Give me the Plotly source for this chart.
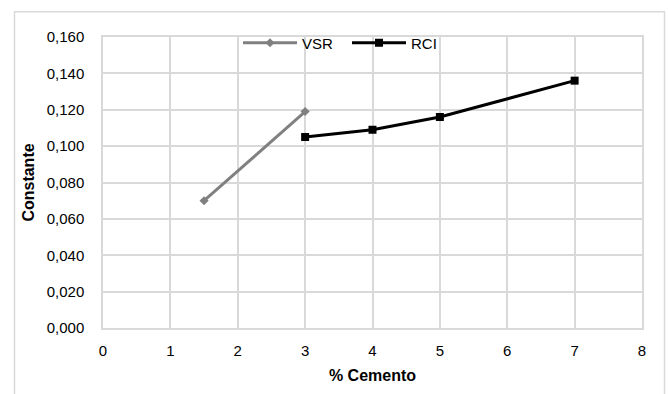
import plotly.graph_objects as go

# Data
vsr_x = [1.5, 3]
vsr_y = [0.070, 0.119]
rci_x = [3, 4, 5, 7]
rci_y = [0.105, 0.109, 0.116, 0.136]
x_ticks = [0, 1, 2, 3, 4, 5, 6, 7, 8]
y_ticks = [0.00, 0.02, 0.04, 0.06, 0.08, 0.10, 0.12, 0.14, 0.16]

FONT = "Liberation Sans, Arial, sans-serif"
GRID = "#d9d9d9"

fig = go.Figure()
fig.add_trace(go.Scatter(
    x=vsr_x, y=vsr_y, name="VSR", mode="lines+markers",
    line=dict(color="#808080", width=3),
    marker=dict(symbol="diamond", size=7, color="#808080"),
))
fig.add_trace(go.Scatter(
    x=rci_x, y=rci_y, name="RCI", mode="lines+markers",
    line=dict(color="#000000", width=3),
    marker=dict(symbol="square", size=8, color="#000000"),
))

fig.update_layout(
    width=670, height=394,
    margin=dict(l=103, r=28, t=37, b=64),
    paper_bgcolor="white", plot_bgcolor="white",
    separators=", ",
    font=dict(family=FONT, size=15, color="#000000"),
    showlegend=True,
    legend=dict(
        orientation="h", x=(238 - 103) / 539, y=(330 - 43) / 293,
        xanchor="left", yanchor="middle",
        itemwidth=54, entrywidth=40, entrywidthmode="pixels",
        bgcolor="rgba(255,255,255,0)",
        font=dict(family=FONT, size=15, color="#000000"),
        tracegroupgap=0, itemsizing="trace",
    ),
    xaxis=dict(
        range=[0, 8], tickvals=x_ticks, ticktext=[str(v) for v in x_ticks],
        showgrid=True, gridcolor=GRID, gridwidth=1.5,
        showline=True, linecolor=GRID, linewidth=1.5, mirror=True,
        zeroline=False, ticks="", ticklabelstandoff=8,
        title=dict(text="<b>% Cemento</b>", font=dict(family=FONT, size=16), standoff=12),
    ),
    yaxis=dict(
        range=[0, 0.16], tickvals=y_ticks, tickformat=".3f",
        showgrid=True, gridcolor=GRID, gridwidth=1.5,
        showline=True, linecolor=GRID, linewidth=1.5, mirror=True,
        zeroline=False, ticks="", ticklabelstandoff=14,
        title=dict(text="<b>Constante</b>", font=dict(family=FONT, size=16), standoff=8),
    ),
)

# outer chart border
fig.add_shape(type="rect", xref="paper", yref="paper",
              x0=(14.5 - 103) / 539, x1=(664.5 - 103) / 539,
              y0=-0.3, y1=(330 - 11.5) / 293,
              line=dict(color=GRID, width=1.5), fillcolor="rgba(0,0,0,0)", layer="below")

fig.write_html("out.html")
